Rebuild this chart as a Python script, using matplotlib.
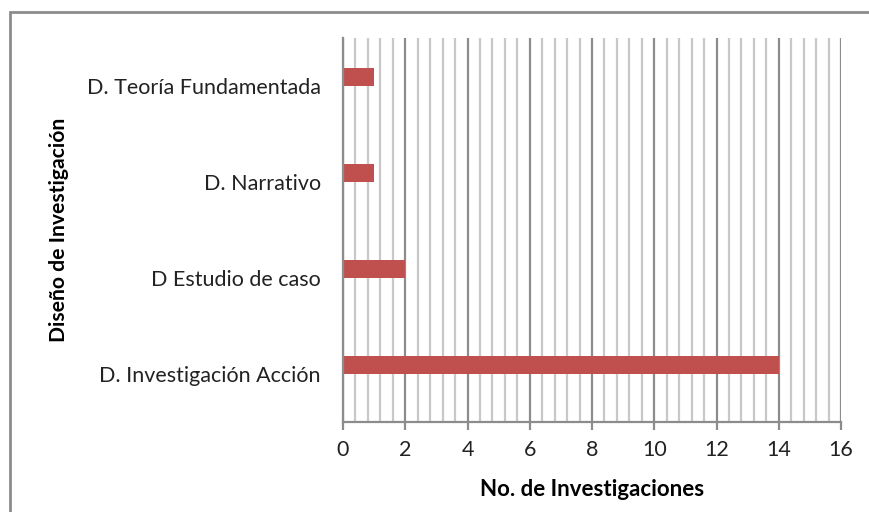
import matplotlib
matplotlib.use("Agg")
import matplotlib.pyplot as plt
from matplotlib.ticker import MultipleLocator
from matplotlib.patches import Rectangle

categories = ["D. Investigación Acción", "D Estudio de caso", "D. Narrativo", "D. Teoría Fundamentada"]
values = [14, 2, 1, 1]
xticks = [0, 2, 4, 6, 8, 10, 12, 14, 16]

plt.rcParams['font.family'] = ['Lato', 'DejaVu Sans']

fig = plt.figure(figsize=(8.69, 5.12), dpi=100)
ax = fig.add_axes([343/869, 90/512, (841-343)/869, (422-38)/512])

ypos = list(range(len(categories)))
bar_h = 0.19
ax.barh([y + bar_h / 2 for y in ypos], values, height=bar_h, color="#C0504D", zorder=3)

ax.set_xlim(0, 16)
ax.set_ylim(-0.5, len(categories) - 0.5)
ax.set_xticks(xticks)
ax.set_xticklabels([str(t) for t in xticks])
ax.xaxis.set_minor_locator(MultipleLocator(0.4))
ax.set_yticks(ypos)
ax.set_yticklabels(categories)

ax.grid(which="major", axis="x", color="#8c8c8c", linewidth=1.6, zorder=1)
ax.grid(which="minor", axis="x", color="#c8c8c8", linewidth=1.6, zorder=1)
ax.grid(axis="y", visible=False)

for s in ["top", "right"]:
    ax.spines[s].set_visible(False)
for s in ["left", "bottom"]:
    ax.spines[s].set_color("#8c8c8c")
    ax.spines[s].set_linewidth(1.6)
    ax.spines[s].set_zorder(4)

ax.tick_params(axis="x", which="major", length=6, width=1.6, color="#8c8c8c",
               labelsize=15.5, labelcolor="#222222", pad=7)
ax.tick_params(axis="x", which="minor", length=0)
ax.tick_params(axis="y", length=0, labelsize=15.5, labelcolor="#222222", pad=16)

ax.set_xlabel("No. de Investigaciones", fontsize=16, fontweight="bold", labelpad=14)
ax.set_ylabel("Diseño de Investigación", fontsize=15.2, fontweight="bold")
ax.yaxis.set_label_coords(-0.55, 0.5)

fig.patches.append(Rectangle((10/869, -0.1), 1.2, (512-12)/512 + 0.1,
                             transform=fig.transFigure, fill=False,
                             edgecolor="#8c8c8c", linewidth=2))

fig.savefig("out.png", dpi=100)
